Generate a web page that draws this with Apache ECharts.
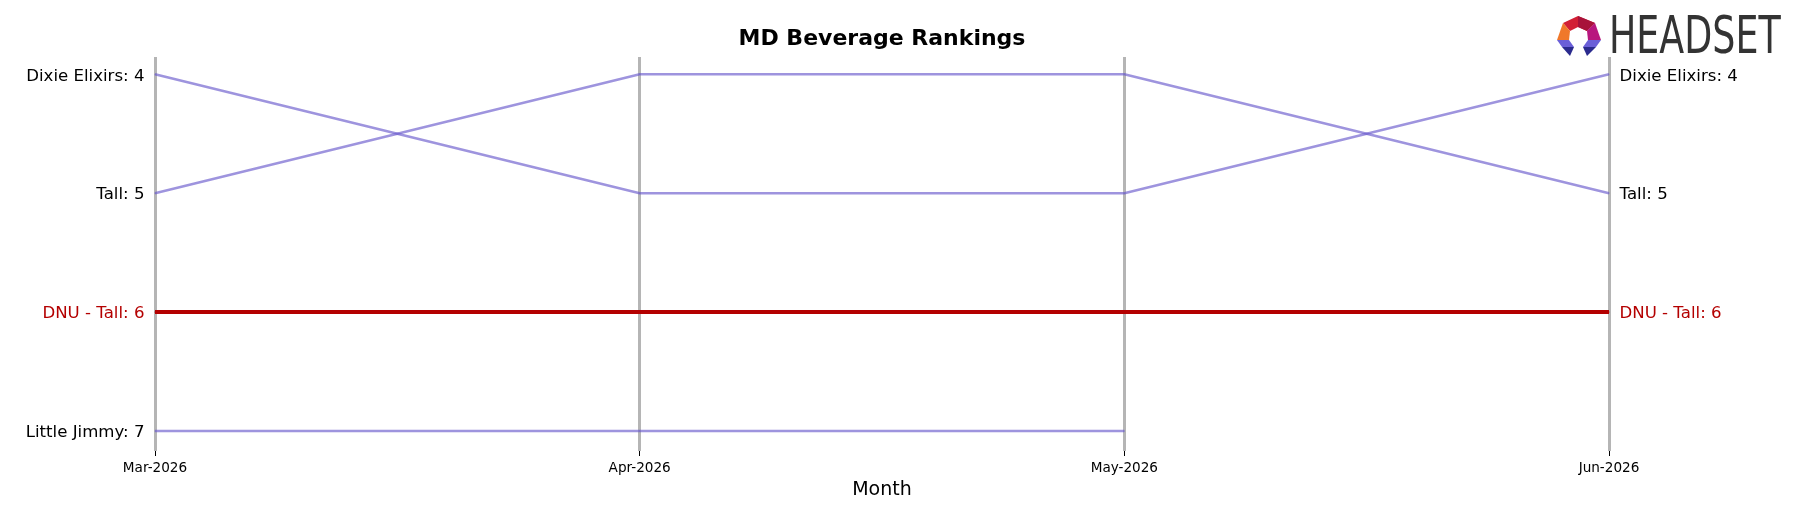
<!DOCTYPE html>
<html>
<head>
<meta charset="utf-8">
<script src="https://cdn.jsdelivr.net/npm/echarts@6/dist/echarts.min.js"></script>
<style>
  html, body { margin: 0; padding: 0; background: #fff; }
  #chart { width: 1793px; height: 507px; }
</style>
</head>
<body>
<div id="chart"></div>
<script>
const months = ['Mar-2026', 'Apr-2026', 'May-2026', 'Jun-2026'];
const brands = ['Dixie Elixirs', 'Tall', 'DNU - Tall', 'Little Jimmy'];
const dixieRanks = [4, 5, 5, 4];
const tallRanks = [5, 4, 4, 5];
const dnuTallRanks = [6, 6, 6, 6];
const littleJimmyRanks = [7, 7, 7, null];
const highlighted = ['DNU - Tall'];

const rankSets = [dixieRanks, tallRanks, dnuTallRanks, littleJimmyRanks];
const PURPLE = 'rgba(106,90,205,0.65)';
const RED = '#b40000';
const FONT = 'DejaVu Sans';

function buildData(name, ranks) {
  const first = ranks.findIndex(v => v != null);
  let last = -1;
  for (let i = ranks.length - 1; i >= 0; i--) if (ranks[i] != null) { last = i; break; }
  return ranks.map((v, i) => {
    if (v == null) return null;
    const item = { value: v };
    if (i === 0 && first === 0) {
      item.label = { show: true, position: 'left', distance: 10, offset: [0, 2], formatter: name + ': ' + v };
    } else if (i === months.length - 1 && last === months.length - 1) {
      item.label = { show: true, position: 'right', distance: 10, offset: [0, 2], formatter: name + ': ' + v };
    }
    return item;
  });
}

const series = brands.map((name, idx) => {
  const hl = highlighted.includes(name);
  const color = hl ? RED : PURPLE;
  return {
    name: name,
    type: 'line',
    data: buildData(name, rankSets[idx]),
    symbol: 'circle',
    symbolSize: 1,
    showSymbol: true,
    connectNulls: false,
    z: hl ? 5 : 3,
    lineStyle: { color: color, width: hl ? 4 : 2.5 },
    itemStyle: { color: color },
    label: {
      show: false,
      fontFamily: FONT,
      fontSize: 16.6,
      color: hl ? RED : '#000'
    },
    emphasis: { disabled: true },
    silent: true
  };
});

const chart = echarts.init(document.getElementById('chart'), null, { renderer: 'canvas' });
chart.setOption({
  animation: false,
  backgroundColor: '#fff',
  title: {
    text: 'MD Beverage Rankings',
    left: 882,
    textAlign: 'center',
    top: 28,
    padding: 0,
    textStyle: { fontFamily: FONT, fontWeight: 'bold', fontSize: 22, color: '#000' }
  },
  grid: { left: 155, right: 184, top: 57, bottom: 56, containLabel: false, outerBoundsMode: 'none' },
  xAxis: {
    type: 'category',
    data: months,
    boundaryGap: false,
    name: 'Month',
    nameLocation: 'middle',
    nameGap: 30,
    nameTextStyle: { fontFamily: FONT, fontSize: 19, color: '#000' },
    axisLine: { show: false },
    axisTick: { show: true, length: 5, lineStyle: { color: '#000', width: 1 } },
    axisLabel: { fontFamily: FONT, fontSize: 13.6, color: '#000', margin: 10 },
    splitLine: { show: true, lineStyle: { color: '#b5b5b5', width: 3 } }
  },
  yAxis: {
    type: 'value',
    inverse: true,
    min: 3.855,
    max: 7.168,
    show: false,
    splitLine: { show: false }
  },
  graphic: [
    { type: 'polygon', shape: { points: [[1563,23],[1578,16],[1595,23],[1587,31],[1578,27],[1570,31]] }, style: { fill: '#d21f35' } },
    { type: 'polygon', shape: { points: [[1578,16],[1595,23],[1587,31],[1578,27]] }, style: { fill: '#a8123a' } },
    { type: 'polygon', shape: { points: [[1563,23],[1570,31],[1569,40],[1557,40]] }, style: { fill: '#f0782a' } },
    { type: 'polygon', shape: { points: [[1595,23],[1601,40],[1588,40],[1587,31]] }, style: { fill: '#b8167e' } },
    { type: 'polygon', shape: { points: [[1557,40],[1569,40],[1574,47],[1562,47]] }, style: { fill: '#6a5fd8' } },
    { type: 'polygon', shape: { points: [[1562,47],[1574,47],[1570,56]] }, style: { fill: '#2b2b8e' } },
    { type: 'polygon', shape: { points: [[1588,40],[1601,40],[1596,47],[1583,47]] }, style: { fill: '#6a5fd8' } },
    { type: 'polygon', shape: { points: [[1583,47],[1596,47],[1587,56]] }, style: { fill: '#2b2b8e' } },
    {
      type: 'text', x: 1609, y: 39, scaleX: 0.70,
      style: { text: 'HEADSET', fontFamily: FONT, fontSize: 52, fill: '#333333', textVerticalAlign: 'middle', textAlign: 'left' }
    }
  ],
  series: series
});
</script>
</body>
</html>
